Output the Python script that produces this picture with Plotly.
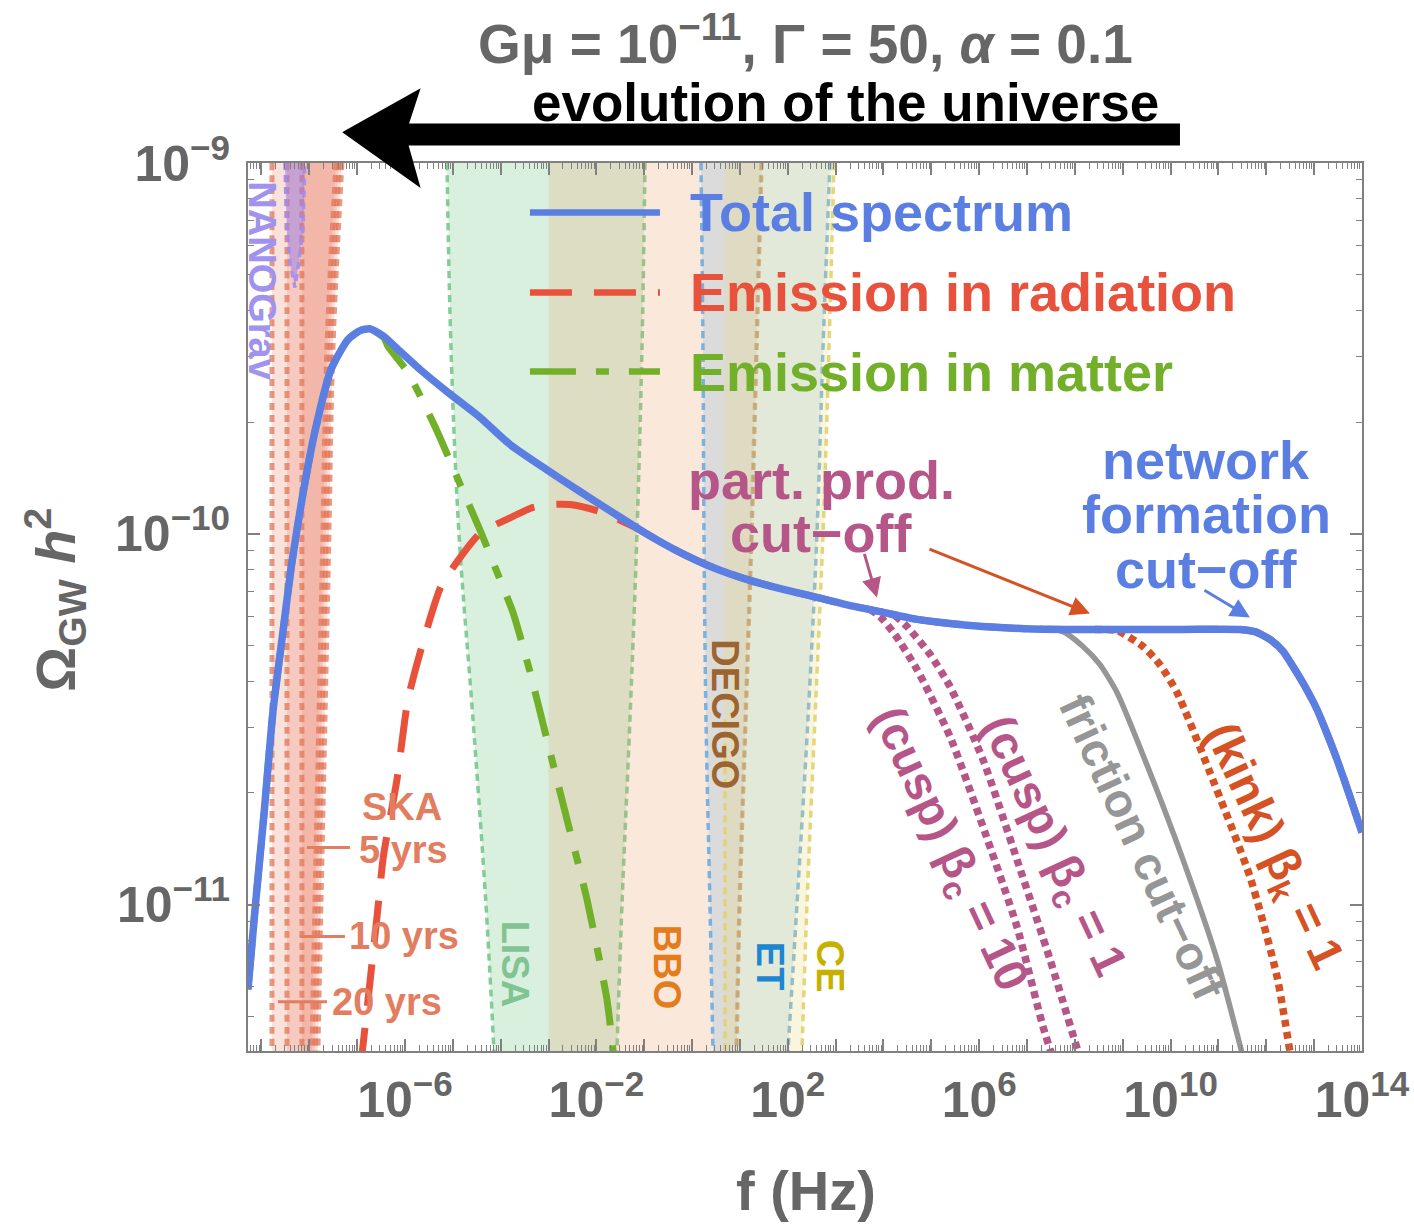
import numpy as np
import plotly.graph_objects as go

# ---------------- data: log10(f/Hz), log10(Omega_GW h^2) ----------------
total_logf = [-9.281, -9.114, -8.946, -8.758, -8.570, -8.375, -8.152, -7.886, -7.545, -7.190, -6.939, -6.736,
              -6.437, -6.144, -5.684, -5.099, -4.433, -3.806, -3.040, -2.343, -1.653, -0.964, -0.253, 0.437,
              1.141, 1.846, 2.527, 3.216, 3.927, 4.700, 5.390, 6.079, 6.957, 7.835, 9.047, 10.259, 11.450,
              11.764, 12.077, 12.349, 12.558, 12.809, 13.060, 13.269, 13.478, 13.749, 14.0]
total_logo = [-11.229, -10.986, -10.757, -10.479, -10.285, -10.088, -9.907, -9.727, -9.557, -9.476, -9.452, -9.447,
              -9.468, -9.503, -9.557, -9.619, -9.686, -9.759, -9.827, -9.886, -9.943, -9.999, -10.050, -10.091,
              -10.123, -10.148, -10.169, -10.191, -10.210, -10.231, -10.242, -10.250, -10.256, -10.258, -10.258,
              -10.258, -10.258, -10.264, -10.285, -10.317, -10.358, -10.412, -10.474, -10.539, -10.609, -10.709,
              -10.806]

rad_logf = [-6.940, -6.889, -6.764, -6.575, -6.450, -6.167, -5.937, -5.665, -5.247, -4.829, -4.411, -3.868,
            -3.325, -2.928, -2.552, -1.925, -1.235, -0.964, -0.253, 0.437, 1.141, 1.846, 2.527, 3.216, 3.927,
            4.700, 5.390, 6.079, 6.957, 7.835, 9.047, 10.259, 11.450, 11.764, 12.077, 12.349, 12.558, 12.809,
            13.060, 13.269, 13.478, 13.749, 14.0]
rad_logo = [-11.445, -11.394, -11.248, -11.022, -10.870, -10.663, -10.447, -10.312, -10.142, -10.061, -9.996,
            -9.961, -9.929, -9.921, -9.921, -9.940, -9.980, -9.999, -10.050, -10.091, -10.123, -10.148, -10.169,
            -10.191, -10.210, -10.231, -10.242, -10.250, -10.256, -10.258, -10.258, -10.258, -10.258, -10.264,
            -10.285, -10.317, -10.358, -10.412, -10.474, -10.539, -10.609, -10.709, -10.806]

mat_logf = [-9.281, -9.114, -8.946, -8.758, -8.570, -8.375, -8.152, -7.886, -7.545, -7.190, -6.939, -6.736,
            -6.437, -6.353, -5.937, -5.373, -4.829, -4.411, -4.015, -3.743, -3.388, -3.033, -2.615, -2.197,
            -1.779, -1.633]
mat_logo = [-11.229, -10.986, -10.757, -10.479, -10.285, -10.088, -9.907, -9.727, -9.557, -9.476, -9.452, -9.447,
            -9.472, -9.495, -9.565, -9.711, -9.872, -9.996, -10.123, -10.212, -10.372, -10.555, -10.770, -10.986,
            -11.256, -11.418]

cusp10_logf = [3.718, 3.927, 4.240, 4.700, 5.390, 6.079, 6.790, 7.333, 7.584]
cusp10_logo = [-10.204, -10.223, -10.272, -10.366, -10.547, -10.790, -11.060, -11.329, -11.432]
cusp1_logf = [4.240, 4.491, 4.972, 5.390, 6.079, 6.790, 7.480, 8.148]
cusp1_logo = [-10.220, -10.250, -10.325, -10.412, -10.609, -10.879, -11.148, -11.432]
fric_logf = [7.271, 7.751, 8.169, 8.525, 8.880, 9.569, 10.259, 10.970, 11.555]
fric_logo = [-10.255, -10.264, -10.304, -10.353, -10.428, -10.644, -10.879, -11.148, -11.432]
kink_logf = [8.420, 8.880, 9.423, 9.778, 10.134, 10.823, 11.659, 12.224, 12.537]
kink_logo = [-10.258, -10.261, -10.304, -10.353, -10.428, -10.644, -10.925, -11.194, -11.432]

# detector sensitivity bands: left / right edge log10 f at these log10 Omega levels
band_logo = [-9.0, -9.5, -10.0, -10.5, -11.0, -11.395]
ska20_left = [-8.779] * 6
ska20_right = [-7.317, -7.505, -7.589, -7.672, -7.756, -7.819]
ska10_left = [-8.466] * 6
ska10_right = [-7.380, -7.568, -7.651, -7.735, -7.819, -7.881]
ska5_left = [-8.153] * 6
ska5_right = [-7.442, -7.630, -7.714, -7.798, -7.881, -7.944]
lisa_left = [-5.122, -5.038, -4.871, -4.578, -4.307, -4.140]
lisa_right = [-0.984, -1.047, -1.152, -1.298, -1.465, -1.570]
bbo_left = [-3.0] * 6
bbo_right = [1.461, 1.356, 1.252, 1.127, 1.001, 0.938]
decigo_left = [-3.0] * 6
decigo_right = [1.44, 1.335, 1.232, 1.108, 0.982, 0.918]
et_left = [0.186, 0.228, 0.249, 0.291, 0.374, 0.437]
et_right = [2.882, 2.736, 2.610, 2.422, 2.192, 2.004]
ce_left = [0.688] * 6
ce_right = [2.966, 2.861, 2.736, 2.568, 2.401, 2.297]
nano_logf = [-8.509, -8.47, -8.40, -8.30, -8.22, -8.13, -8.091]
nano_logo = [-9.0, -9.18, -9.27, -9.336, -9.27, -9.18, -9.0]

x_label_exps = [-6, -2, 2, 6, 10, 14]
y_label_exps = [-9, -10, -11]

# ---------------- styling ----------------
FONT = "Liberation Sans, Arial, Helvetica, sans-serif"
BLUE = "rgb(90,126,226)"
RED = "rgb(232,82,60)"
GREEN = "rgb(114,176,42)"
PINK = "rgb(182,86,136)"
GRAYC = "rgb(150,150,150)"
KINK = "rgb(212,82,36)"
AXC = "#808080"
TXT = "#666666"


def P(a):
    return np.power(10.0, np.asarray(a, dtype=float))


fig = go.Figure()


def band(left, right, fill, edge, dl=True, dr=True, width=3.5, dash="7px,5px"):
    xs = list(left) + list(right)[::-1]
    ys = band_logo + band_logo[::-1]
    fig.add_trace(go.Scatter(x=P(xs), y=P(ys), mode="lines", fill="toself", fillcolor=fill,
                             line=dict(width=0), hoverinfo="skip", showlegend=False))
    for e, on in ((left, dl), (right, dr)):
        if on:
            fig.add_trace(go.Scatter(x=P(e), y=P(band_logo), mode="lines",
                                     line=dict(color=edge, width=width, dash=dash, shape="spline"),
                                     hoverinfo="skip", showlegend=False))


SKA_FILL = "rgba(228,112,82,0.2)"
SKA_EDGE = "rgba(226,118,88,0.75)"
band(ska20_left, ska20_right, SKA_FILL, SKA_EDGE, width=5, dash="7px,5px")
band(ska10_left, ska10_right, SKA_FILL, SKA_EDGE, width=5, dash="7px,5px")
band(ska5_left, ska5_right, SKA_FILL, SKA_EDGE, width=5, dash="7px,5px")

fig.add_trace(go.Scatter(x=P(nano_logf), y=P(nano_logo), mode="lines", fill="toself",
                         fillcolor="rgba(150,120,230,0.5)",
                         line=dict(color="rgba(160,140,240,0.85)", width=3.5, dash="7px,5px"),
                         hoverinfo="skip", showlegend=False))

band(lisa_left, lisa_right, "rgba(120,200,140,0.28)", "rgba(120,200,140,0.9)")
band(bbo_left, bbo_right, "rgba(240,160,100,0.2)", "rgba(232,150,90,0.85)", dl=False)
band(decigo_left, decigo_right, "rgba(200,150,100,0.04)", "rgba(190,135,85,0.6)", dl=False)
band(et_left, et_right, "rgba(100,170,220,0.2)", "rgba(110,172,222,0.9)")
band(ce_left, ce_right, "rgba(230,220,120,0.25)", "rgba(225,210,110,0.9)", dl=False)
# visible lower part of the CE left edge
fig.add_trace(go.Scatter(x=P(ce_left[3:]), y=P(band_logo[3:]), mode="lines",
                         line=dict(color="rgba(225,210,110,0.9)", width=3.5, dash="7px,5px"),
                         hoverinfo="skip", showlegend=False))

# SKA observation-time pointer lines
ska_ptr_logf = [(-8.048, -7.149), (-8.194, -7.254), (-8.654, -7.630)]
ska_ptr_logo = [-10.846, -11.086, -11.262]
for (a, b), yy in zip(ska_ptr_logf, ska_ptr_logo):
    fig.add_trace(go.Scatter(x=P([a, b]), y=P([yy, yy]), mode="lines",
                             line=dict(color="rgb(226,125,95)", width=3), hoverinfo="skip", showlegend=False))

# spectra
fig.add_trace(go.Scatter(x=P(rad_logf), y=P(rad_logo), mode="lines",
                         line=dict(color=RED, width=7, dash="42px,22px", shape="spline", smoothing=0.6),
                         showlegend=False))
fig.add_trace(go.Scatter(x=P(mat_logf), y=P(mat_logo), mode="lines",
                         line=dict(color=GREEN, width=7, dash="46px,20px,13px,20px", shape="spline", smoothing=0.6),
                         showlegend=False))
for lf, lo, col, dsh, w in ((cusp10_logf, cusp10_logo, PINK, "7px,5px", 7.5),
                            (cusp1_logf, cusp1_logo, PINK, "7px,5px", 7.5),
                            (fric_logf, fric_logo, GRAYC, "solid", 5.5),
                            (kink_logf, kink_logo, KINK, "7px,5px", 7.5)):
    fig.add_trace(go.Scatter(x=P(lf), y=P(lo), mode="lines",
                             line=dict(color=col, width=w, dash=dsh, shape="spline", smoothing=0.6),
                             showlegend=False))
fig.add_trace(go.Scatter(x=P(total_logf), y=P(total_logo), mode="lines",
                         line=dict(color=BLUE, width=7.5, shape="spline", smoothing=0.6), showlegend=False))

# ---------------- axes ----------------
xmaj_exp = list(range(-9, 15))
xtickvals = [10.0 ** k for k in xmaj_exp]
xticktext = [("10<sup>" + ("−" if k < 0 else "") + str(abs(k)) + "</sup>") if k in x_label_exps else ""
             for k in xmaj_exp]
xminor = [m * 10.0 ** k for k in range(-10, 14) for m in range(2, 10)]
ymaj_exp = [-12, -11, -10, -9]
ytickvals = [10.0 ** k for k in ymaj_exp]
yticktext = [("10<sup>−" + str(abs(k)) + "</sup>") if k in y_label_exps else "" for k in ymaj_exp]
yminor = [m * 10.0 ** k for k in range(-12, -9) for m in range(2, 10)]

tickfont = dict(family=FONT, size=50, color=TXT, weight="bold")
fig.update_xaxes(type="log", range=[-9.28, 14.0], showline=True, linecolor=AXC, linewidth=2,
                 mirror="allticks", ticks="inside", ticklen=12, tickwidth=1.5, tickcolor=AXC,
                 tickmode="array", tickvals=xtickvals, ticktext=xticktext, tickfont=tickfont,
                 showgrid=False, zeroline=False, ticklabelstandoff=4, automargin=False,
                 minor=dict(ticks="inside", ticklen=6, tickwidth=1.2, tickcolor=AXC, tickvals=xminor,
                            showgrid=False))
fig.update_yaxes(type="log", range=[-11.395, -9.0], showline=True, linecolor=AXC, linewidth=2,
                 mirror="allticks", ticks="inside", ticklen=12, tickwidth=1.5, tickcolor=AXC,
                 tickmode="array", tickvals=ytickvals, ticktext=yticktext, tickfont=tickfont,
                 showgrid=False, zeroline=False, ticklabelstandoff=6, automargin=False,
                 minor=dict(ticks="inside", ticklen=6, tickwidth=1.2, tickcolor=AXC, tickvals=yminor,
                            showgrid=False))

# ---------------- annotations ----------------
ann = []


def text(x, y, s, size, color, ref="data", angle=0, xanchor="center", yanchor="middle"):
    d = dict(x=x, y=y, text=s, showarrow=False, textangle=angle, xanchor=xanchor, yanchor=yanchor,
             font=dict(family=FONT, size=size, color=color, weight="bold"))
    if ref == "paper":
        d.update(xref="paper", yref="paper")
    else:
        d.update(xref="x", yref="y")
    ann.append(d)


# titles
text(0.50, 1.1390, "Gμ = 10<sup>−11</sup>, Γ = 50, <i>α</i> = 0.1", 55, TXT, ref="paper")
text(0.5368, 1.0683, "evolution of the universe", 53, "black", ref="paper")
text(0.5009, -0.1566, "f (Hz)", 56, TXT, ref="paper")
text(-0.1733, 0.5082, "Ω<sub>GW</sub> <i>h</i><sup>2</sup>", 56, TXT, ref="paper", angle=-90)

# legend (manual)
leg = [("Total spectrum", BLUE, "solid", 0.9443),
       ("Emission in radiation", RED, "42px,22px", 0.8542),
       ("Emission in matter", GREEN, "46px,20px,13px,20px", 0.7652)]
shapes = []
for name, col, dsh, yy in leg:
    shapes.append(dict(type="line", xref="paper", yref="paper", x0=0.2531, x1=0.3698, y0=yy, y1=yy,
                       line=dict(color=col, width=6.5, dash=dsh)))
    text(0.3950, yy, name, 54, col, ref="paper", xanchor="left")

# detector labels
text(-8.988, -9.319, "NANOGrav", 38, "rgb(160,146,238)", angle=90)
text(-6.06, -10.736, "SKA", 38, "rgb(226,125,95)")
text(-7.003, -10.854, "5 yrs", 38, "rgb(226,125,95)", xanchor="left")
text(-7.212, -11.086, "10 yrs", 38, "rgb(226,125,95)", xanchor="left")
text(-7.567, -11.264, "20 yrs", 38, "rgb(226,125,95)", xanchor="left")
text(-3.701, -11.162, "LISA", 38, "rgb(130,195,148)", angle=90)
text(-0.524, -11.168, "BBO", 38, "rgb(226,124,28)", angle=90)
text(0.688, -10.487, "DECIGO", 38, "rgb(155,100,48)", angle=90)
text(1.628, -11.168, "ET", 38, "rgb(28,134,208)", angle=90)
text(2.882, -11.168, "CE", 38, "rgb(198,176,0)", angle=90)

# cut-off labels
text(2.715, -9.854, "part. prod.", 54, PINK)
text(2.715, -9.997, "cut−off", 54, PINK)
text(10.740, -9.800, "network", 54, BLUE)
text(10.740, -9.948, "formation", 54, BLUE)
text(10.740, -10.096, "cut−off", 54, BLUE)
text(5.36, -10.852, "(cusp) β<sub>c</sub> = 10", 47, PINK, angle=65)
text(7.52, -10.846, "(cusp) β<sub>c</sub> = 1", 47, PINK, angle=65)
text(9.423, -10.846, "friction cut−off", 47, GRAYC, angle=65)
text(12.119, -10.846, "(kink) β<sub>k</sub> = 1", 47, KINK, angle=65)

for (hx, hy, tx, ty, col) in ((3.864, -10.172, 3.592, -10.050, PINK),
                              (8.316, -10.215, 4.930, -10.040, KINK),
                              (11.659, -10.226, 10.677, -10.150, BLUE)):
    ann.append(dict(x=hx, y=hy, ax=tx, ay=ty, xref="x", yref="y", axref="x", ayref="y", text="",
                    showarrow=True, arrowhead=2, arrowsize=1.3, arrowwidth=3, arrowcolor=col, standoff=0))

# big "evolution" arrow
shapes.append(dict(type="line", xref="paper", yref="paper", x0=0.136, x1=0.8366, y0=1.0322, y1=1.0322,
                   line=dict(color="black", width=22)))
shapes.append(dict(type="path", xref="paper", yref="paper",
                   path="M 0.0871,1.0345 L 0.1526,1.0807 L 0.1400,1.0322 L 0.1526,0.9759 Z",
                   fillcolor="black", line=dict(color="black", width=3)))

fig.update_layout(width=1414, height=1227, margin=dict(l=248, r=52, t=163, b=176, autoexpand=False),
                  paper_bgcolor="white", plot_bgcolor="white", showlegend=False,
                  annotations=ann, shapes=shapes, font=dict(family=FONT))

fig.write_html("out.html")
